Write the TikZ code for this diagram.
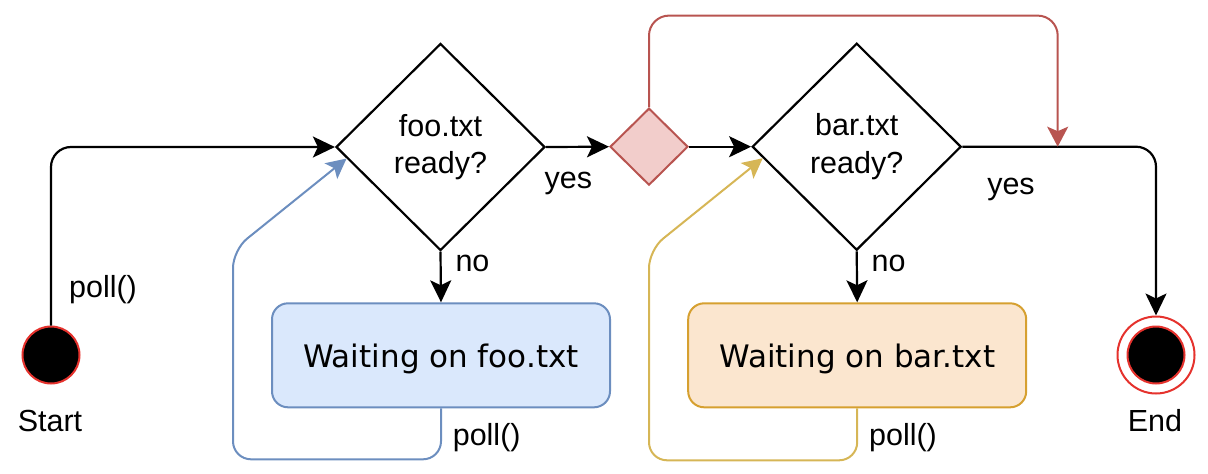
\documentclass[tikz,border=0pt]{standalone}
\usepackage{fontspec}
\setmainfont{Liberation Sans}
\newfontfamily\boxfont{DejaVu Sans}
\usetikzlibrary{shapes.geometric,arrows.meta}
\definecolor{blueS}{HTML}{6C8EBF}
\definecolor{blueF}{HTML}{DAE8FC}
\definecolor{orS}{HTML}{D6A030}
\definecolor{orF}{HTML}{FBE6CF}
\definecolor{yelS}{HTML}{D6B656}
\definecolor{redS}{HTML}{B85450}
\definecolor{redF}{HTML}{F2CDCB}
\definecolor{ringR}{HTML}{E5322D}
\begin{document}
\begin{tikzpicture}[x=1pt,y=-1pt,
  lbl/.style={font=\fontsize{30.5}{37}\selectfont, inner sep=0},
  decision/.style={diamond, draw, line width=2.2pt, minimum width=209pt, minimum height=207pt,
    inner sep=0, align=center, font=\fontsize{30.5}{37.5}\selectfont},
  gatebox/.style={diamond, draw=redS, fill=redF, line width=2pt, minimum width=78pt, minimum height=77pt, inner sep=0},
  waitbox/.style={rectangle, rounded corners=16pt, line width=2pt, minimum width=338pt, minimum height=104pt,
    inner sep=0, text height=26pt, text depth=2pt, font=\boxfont\fontsize{31}{37}\selectfont},
  startdot/.style={circle, fill=black, draw=ringR, line width=2pt, minimum size=57pt, inner sep=0},
  endring/.style={circle, draw=ringR, line width=2pt, minimum size=77pt, inner sep=0},
  flow/.style={line width=2.2pt, rounded corners=20pt, -{Stealth[length=22pt,width=21pt,inset=5pt]}},
  cflow/.style={line width=2pt, rounded corners=18pt, -{Stealth[length=20pt,width=20pt,inset=4.5pt]}}
]
\useasboundingbox (0,0) rectangle (1208,474);
% nodes
\node[startdot] (start) at (51,355) {};
\node[decision] (d1) at (440.5,147) {foo.txt\\ready?};
\node[gatebox] (gate) at (649,146.7) {};
\node[decision] (d2) at (856.7,146.7) {bar.txt\\ready?};
\node[waitbox, fill=blueF, draw=blueS] (w1) at (441,355.3) {Waiting on foo.txt};
\node[waitbox, fill=orF, draw=orS] (w2) at (857.2,355.3) {Waiting on bar.txt};
\node[endring] (endring) at (1156,355) {};
\node[startdot, minimum size=57pt] (enddot) at (1156,355) {};
\coordinate (redtip) at (1057.7,146.7);
% labels
\node[lbl, anchor=base] (startlbl) at (50,431) {Start};
\node[lbl, anchor=base] (endlbl) at (1155,431) {End};
\node[lbl, anchor=base] (poll0) at (103,297) {poll()};
\node[lbl, anchor=base] (yes1) at (568.3,188) {yes};
\node[lbl, anchor=base] (yes2) at (1011,194) {yes};
\node[lbl, anchor=base] (no1) at (472.5,271.7) {no};
\node[lbl, anchor=base] (no2) at (888.7,271.7) {no};
\node[lbl, anchor=base] (poll1) at (486.7,445) {poll()};
\node[lbl, anchor=base] (poll2) at (903,445) {poll()};
% connectors
\draw[flow] (start.north) |- (d1.west);
\draw[flow] (d1.east) -- (gate.west);
\draw[flow] (gate.east) -- (d2.west);
\draw[flow] (d2.east) -| (endring.north);
\draw[flow] (d1.south) -- (w1.north);
\draw[flow] (d2.south) -- (w2.north);
\draw[cflow, draw=redS, rounded corners=20pt, -{Stealth[length=20pt,width=21pt,inset=4.5pt,fill=redS]}]
  (gate.north) -- ++(0,-91.6) -| (redtip);
\draw[cflow, draw=blueS, -{Stealth[length=20pt,width=20pt,inset=4.5pt,fill=blueS]}]
  (w1.south) -- ++(0,51) -| (233,250) -- (d1.187);
\draw[cflow, draw=yelS, -{Stealth[length=20pt,width=20pt,inset=4.5pt,fill=yelS]}]
  (w2.south) -- ++(0,52) -| (649,250) -- (d2.187);
\end{tikzpicture}
\end{document}
